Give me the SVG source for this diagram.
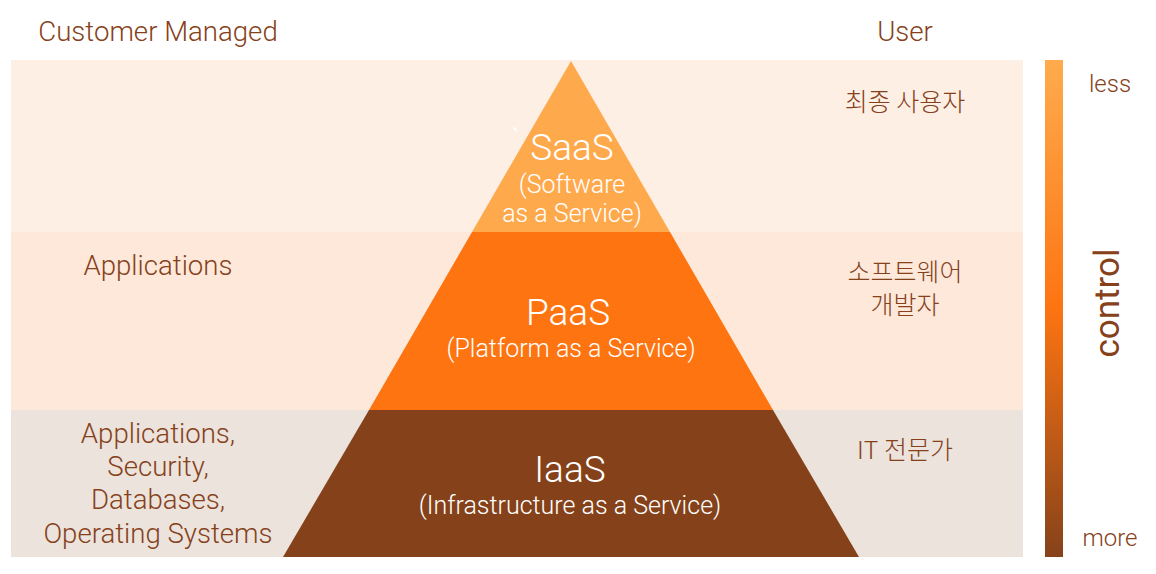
<svg xmlns="http://www.w3.org/2000/svg" width="1156" height="574" viewBox="0 0 1156 574">
<defs>
<linearGradient id="ctrl" x1="0" y1="0" x2="0" y2="1">
<stop offset="0" stop-color="#ffab4d"/>
<stop offset="0.5" stop-color="#fd7412"/>
<stop offset="1" stop-color="#86421a"/>
</linearGradient>
<style>
text{font-family:Roboto,"Liberation Sans","Noto Sans CJK KR",sans-serif;font-weight:300;}
.lbl{fill:#86411a;font-size:27.6px;text-anchor:middle;}
.ko{fill:#86411a;font-size:25px;text-anchor:middle;font-family:"Noto Sans CJK KR",sans-serif;}
.big{fill:#ffffff;font-size:37px;text-anchor:middle;}
.sub{fill:#ffffff;font-size:25px;text-anchor:middle;}
.side{fill:#86411a;font-size:24px;text-anchor:middle;}
.ctl{fill:#86411a;font-size:35px;text-anchor:middle;font-weight:400;}
</style>
</defs>
<rect width="1156" height="574" fill="#ffffff"/>
<g id="bands">
<rect x="11" y="60" width="1012" height="172" fill="#fdefe3"/>
<rect x="11" y="232" width="1012" height="178" fill="#fde8da"/>
<rect x="11" y="410" width="1012" height="147" fill="#ebe3dc"/>
</g>
<text class="lbl" x="158" y="41">Customer Managed</text>
<text class="lbl" x="905" y="41">User</text>
<g id="saas">
<polygon points="571,61 472,232 670,232" fill="#ffa94d"/>
<text fill="#ffffff" style="font-size:24px;font-weight:400" x="512" y="146">`</text>
<text class="big" x="572" y="160">SaaS</text>
<text class="sub" x="572" y="193">(Software</text>
<text class="sub" x="572" y="222">as a Service)</text>
<text class="ko" x="905" y="111">최종 사용자</text>
</g>
<g id="paas">
<polygon points="472,232 670,232 773,410 369,410" fill="#fd7411"/>
<text class="big" x="568" y="325">PaaS</text>
<text class="sub" x="571" y="357">(Platform as a Service)</text>
<text class="lbl" x="158" y="275">Applications</text>
<text class="ko" x="905" y="281">소프트웨어</text>
<text class="ko" x="905" y="314">개발자</text>
</g>
<g id="iaas">
<polygon points="369,410 773,410 859,557 283,557" fill="#85421a"/>
<text class="big" x="570" y="482">IaaS</text>
<text class="sub" x="570" y="514">(Infrastructure as a Service)</text>
<text class="lbl" x="158" y="443">Applications,</text>
<text class="lbl" x="158" y="476">Security,</text>
<text class="lbl" x="158" y="509">Databases,</text>
<text class="lbl" x="158" y="543">Operating Systems</text>
<text class="ko" x="905" y="459">IT 전문가</text>
</g>
<g id="control">
<rect x="1045" y="60" width="18" height="497" fill="url(#ctrl)"/>
<text class="side" x="1110" y="92">less</text>
<text class="side" x="1110" y="546">more</text>
<text class="ctl" transform="translate(1119,303) rotate(-90)">control</text>
</g>
<g id="connectors"/>
</svg>
